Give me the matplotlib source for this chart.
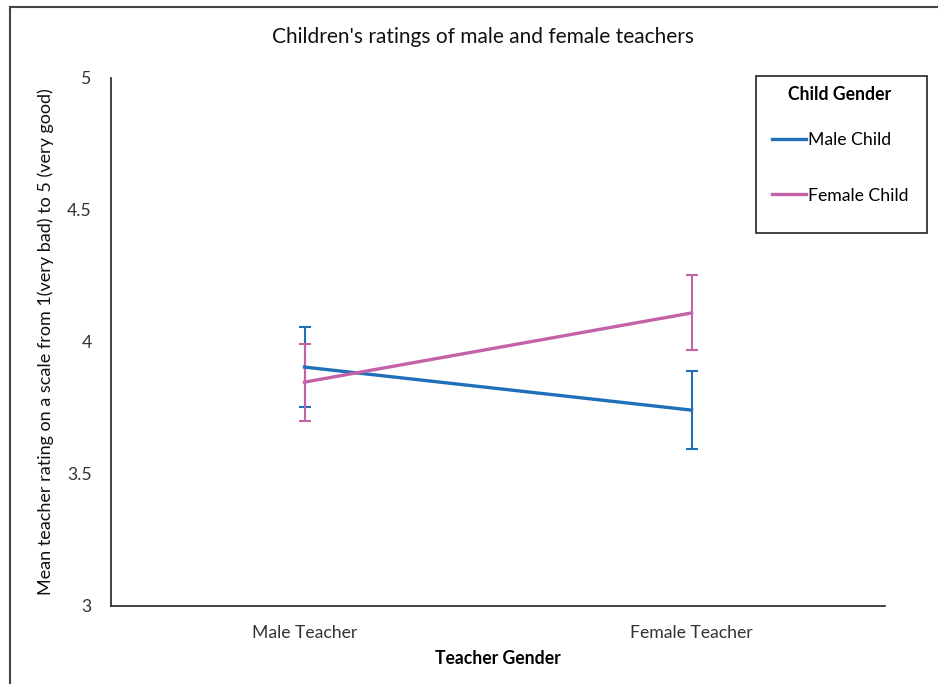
import matplotlib
matplotlib.use("Agg")
import matplotlib.pyplot as plt
from matplotlib.lines import Line2D
from matplotlib.patches import Rectangle

plt.rcParams['font.family'] = ['Lato', 'DejaVu Sans']

teacher = ["Male Teacher", "Female Teacher"]
male_child = [3.905, 3.742]
male_child_err = [0.15, 0.148]
female_child = [3.848, 4.11]
female_child_err = [0.146, 0.142]
yticks = [3, 3.5, 4, 4.5, 5]
ytick_labels = ["3", "3.5", "4", "4.5", "5"]

blue = "#1f70b8"
pink = "#c462a8"
FS = 12.7

fig = plt.figure(figsize=(9.38, 6.84), dpi=100)
ax = fig.add_axes([111/938, 1-606/684, (885-111)/938, (606-78)/684])

x = list(range(len(teacher)))
ax.errorbar(x, male_child, yerr=male_child_err, color=blue, lw=2.4,
            elinewidth=1.5, capsize=4, capthick=1.5, label="Male Child")
ax.errorbar(x, female_child, yerr=female_child_err, color=pink, lw=2.4,
            elinewidth=1.5, capsize=4, capthick=1.5, label="Female Child")

ax.set_xlim(-0.5, 1.5)
ax.set_ylim(3, 5)
ax.set_yticks(yticks)
ax.set_yticklabels(ytick_labels)
ax.set_xticks(x)
ax.set_xticklabels(teacher)
ax.tick_params(axis='both', length=0, labelsize=FS, colors='#333333')
ax.tick_params(axis='y', pad=14)
ax.tick_params(axis='x', pad=14)
for s in ['top', 'right']:
    ax.spines[s].set_visible(False)
for s in ['left', 'bottom']:
    ax.spines[s].set_color('#222222')
    ax.spines[s].set_linewidth(1.2)

ax.set_xlabel("Teacher Gender", fontsize=FS, fontweight='bold')
ax.xaxis.set_label_coords(0.5, -0.083)
ax.set_ylabel("Mean teacher rating on a scale from 1(very bad) to 5 (very good)",
              fontsize=13, color='#111111')
ax.yaxis.set_label_coords(-0.074, 0.5)
fig.text(483/938, 1-37/684, "Children's ratings of male and female teachers",
         ha='center', va='center', fontsize=15, color='#111111')

handles = [Line2D([], [], color=blue, lw=2.4), Line2D([], [], color=pink, lw=2.4)]
leg = ax.legend(handles, ["Male Child", "Female Child"], title="Child Gender",
                loc='upper left', bbox_to_anchor=(762/938, 1-76/684),
                bbox_transform=fig.transFigure, frameon=False,
                fontsize=FS, title_fontproperties={'weight': 'bold', 'size': FS},
                handlelength=1.95, handletextpad=0.1, labelspacing=2.25,
                borderpad=0.55, borderaxespad=0)
leg._legend_box.sep = 21
fig.add_artist(Rectangle((756/938, 1-233/684), (927-756)/938, (233-76)/684,
                         transform=fig.transFigure, fill=False,
                         edgecolor='#222222', lw=1.2))

# outer border
fig.add_artist(Line2D([10/938, 10/938], [0, 1-7/684], transform=fig.transFigure,
                      color='#444444', lw=1.5))
fig.add_artist(Line2D([10/938, 1], [1-7/684, 1-7/684], transform=fig.transFigure,
                      color='#444444', lw=1.5))

fig.savefig("out.png", dpi=100)
